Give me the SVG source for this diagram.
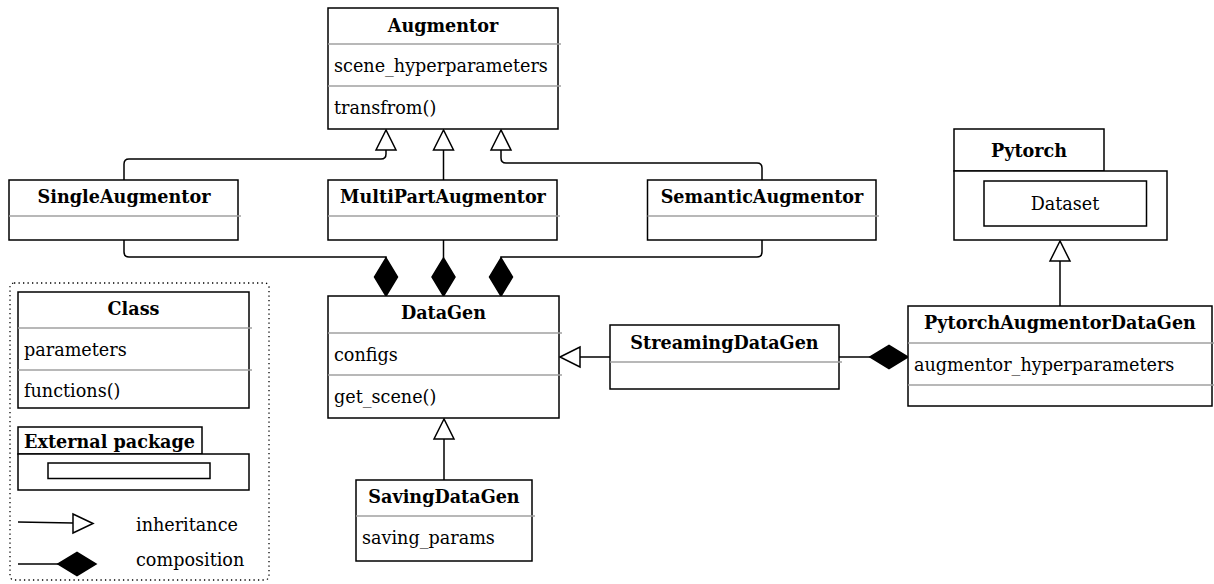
<svg xmlns="http://www.w3.org/2000/svg" width="1214" height="584" viewBox="0 0 1214 584">
<style>
.box{fill:#fff;stroke:#000;stroke-width:1.5}
.div{stroke:#a0a0a0;stroke-width:1.5}
.t{font-family:"DejaVu Serif","Liberation Serif",serif;font-size:17.6px;fill:#000}
.b{font-weight:bold;text-anchor:middle}
.ln{fill:none;stroke:#000;stroke-width:1.5}
.tri{fill:#fff;stroke:#000;stroke-width:1.5}
.dia{fill:#000;stroke:#000;stroke-width:1.5}
</style>
<rect width="1214" height="584" fill="#fff"/>

<g id="connectors">
  <path class="ln" d="M124,180 V164 Q124,159 129,159 H381 Q386,159 386,154 V150"/>
  <polygon class="tri" points="386,130 376,150 396,150"/>
  <path class="ln" d="M443.5,180 V150"/>
  <polygon class="tri" points="443.5,130 433.5,150 453.5,150"/>
  <path class="ln" d="M762,180 V168 Q762,163 757,163 H506 Q501,163 501,158 V150"/>
  <polygon class="tri" points="501,130 491,150 511,150"/>

  <path class="ln" d="M124,240 V252 Q124,257 129,257 H386 V258"/>
  <polygon class="dia" points="386,258 397.5,277 386,296 374.5,277"/>
  <path class="ln" d="M443.5,240 V258"/>
  <polygon class="dia" points="443.5,258 455,277 443.5,296 432,277"/>
  <path class="ln" d="M762,240 V252 Q762,257 757,257 H501 V258"/>
  <polygon class="dia" points="501,258 512.5,277 501,296 489.5,277"/>

  <path class="ln" d="M610,357 H580"/>
  <polygon class="tri" points="560,357 580,347 580,367"/>
  <path class="ln" d="M444,480 V439"/>
  <polygon class="tri" points="444,419 434,439 454,439"/>

  <path class="ln" d="M839,357 H870"/>
  <polygon class="dia" points="870,357 889,345.5 908,357 889,368.5"/>

  <path class="ln" d="M1060,306 V261"/>
  <polygon class="tri" points="1060,241 1050,261 1070,261"/>
</g>

<g id="Augmentor">
  <rect class="box" x="328" y="8" width="230" height="121"/>
  <line class="div" x1="328" y1="44" x2="561" y2="44"/>
  <line class="div" x1="328" y1="86" x2="561" y2="86"/>
  <text class="t b" x="443" y="32">Augmentor</text>
  <text class="t" x="334" y="72">scene_hyperparameters</text>
  <text class="t" x="334" y="114">transfrom()</text>
</g>

<g id="SingleAugmentor">
  <rect class="box" x="9" y="180" width="229" height="60"/>
  <line class="div" x1="9" y1="216" x2="241" y2="216"/>
  <text class="t b" x="124" y="203">SingleAugmentor</text>
</g>

<g id="MultiPartAugmentor">
  <rect class="box" x="328" y="180" width="229" height="60"/>
  <line class="div" x1="328" y1="216" x2="560" y2="216"/>
  <text class="t b" x="443" y="203">MultiPartAugmentor</text>
</g>

<g id="SemanticAugmentor">
  <rect class="box" x="647.5" y="180" width="228.5" height="60"/>
  <line class="div" x1="647.5" y1="216" x2="879" y2="216"/>
  <text class="t b" x="762" y="203">SemanticAugmentor</text>
</g>

<g id="DataGen">
  <rect class="box" x="328" y="296" width="231" height="122"/>
  <line class="div" x1="328" y1="333" x2="562" y2="333"/>
  <line class="div" x1="328" y1="375" x2="562" y2="375"/>
  <text class="t b" x="443.5" y="319">DataGen</text>
  <text class="t" x="334" y="361">configs</text>
  <text class="t" x="334" y="403">get_scene()</text>
</g>

<g id="StreamingDataGen">
  <rect class="box" x="610" y="325" width="229" height="64"/>
  <line class="div" x1="610" y1="362" x2="842" y2="362"/>
  <text class="t b" x="724.5" y="349">StreamingDataGen</text>
</g>

<g id="SavingDataGen">
  <rect class="box" x="356" y="480" width="176" height="81"/>
  <line class="div" x1="356" y1="516" x2="535" y2="516"/>
  <text class="t b" x="444" y="503">SavingDataGen</text>
  <text class="t" x="362" y="544">saving_params</text>
</g>

<g id="PytorchAugmentorDataGen">
  <rect class="box" x="908" y="306" width="304" height="100"/>
  <line class="div" x1="908" y1="343" x2="1214" y2="343"/>
  <line class="div" x1="908" y1="385" x2="1214" y2="385"/>
  <text class="t b" x="1060" y="329">PytorchAugmentorDataGen</text>
  <text class="t" x="914" y="371">augmentor_hyperparameters</text>
</g>

<g id="Pytorch">
  <rect class="box" x="954" y="129" width="150" height="42"/>
  <rect class="box" x="954" y="171" width="213" height="69"/>
  <rect class="box" x="984" y="181" width="162.5" height="45"/>
  <text class="t b" x="1029" y="157">Pytorch</text>
  <text class="t" x="1065" y="210" text-anchor="middle">Dataset</text>
</g>

<g id="legend">
  <rect x="10" y="283" width="259" height="297" rx="4" fill="none" stroke="#000" stroke-width="1.3" stroke-dasharray="1.3 3.2"/>
  <rect class="box" x="18" y="292" width="231" height="116"/>
  <line class="div" x1="18" y1="328" x2="252" y2="328"/>
  <line class="div" x1="18" y1="370" x2="252" y2="370"/>
  <text class="t b" x="133.5" y="315">Class</text>
  <text class="t" x="24" y="356">parameters</text>
  <text class="t" x="24" y="397">functions()</text>

  <rect class="box" x="18" y="427" width="184" height="27"/>
  <rect class="box" x="18" y="454" width="231" height="36"/>
  <rect class="box" x="48" y="463" width="162" height="15.5"/>
  <text class="t" x="24" y="448" font-weight="bold">External package</text>

  <path class="ln" d="M18,522 L73,523"/>
  <polygon class="tri" points="93,523.5 73,514 73,533"/>
  <text class="t" x="136" y="531">inheritance</text>

  <path class="ln" d="M18,564 H58"/>
  <polygon class="dia" points="58,564 77,552.5 96,564 77,575.5"/>
  <text class="t" x="136" y="566">composition</text>
</g>
</svg>
